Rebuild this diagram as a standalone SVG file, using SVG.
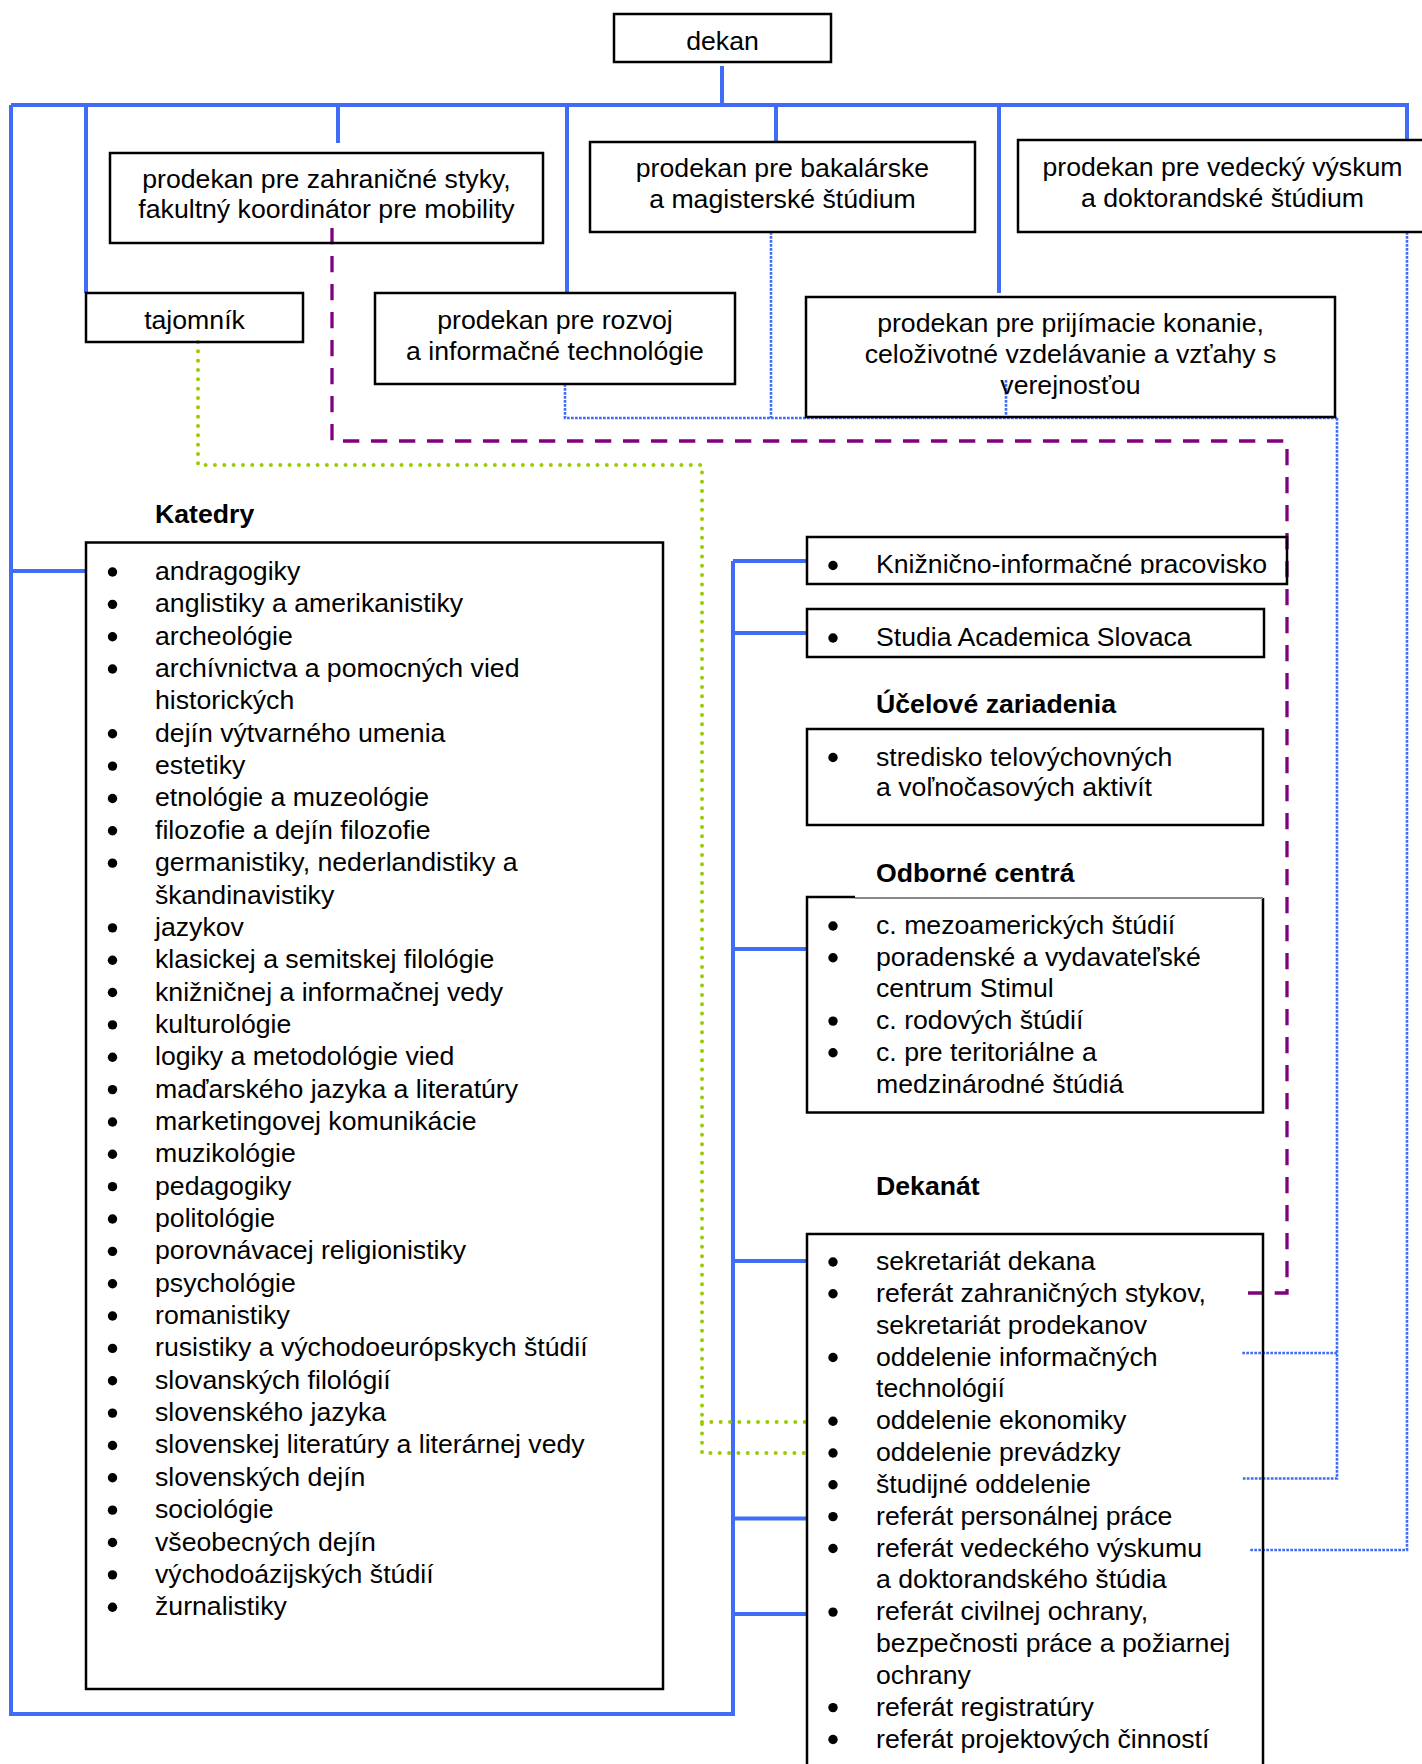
<svg xmlns="http://www.w3.org/2000/svg" xmlns:xlink="http://www.w3.org/1999/xlink" width="1422" height="1764" viewBox="0 0 1422 1764">
<style>
.t{font-family:"Liberation Sans",Arial,sans-serif;font-size:26.67px;fill:#000}
.c{text-anchor:middle}
.h{font-weight:bold}
.box{fill:none;stroke:#000;stroke-width:2.5}
.solid{fill:none;stroke:#416cf5;stroke-width:4}
.dot{fill:none;stroke:#416cf5;stroke-width:2.6;stroke-dasharray:2.7 1.3}
.dash{fill:none;stroke:#800080;stroke-width:3.3;stroke-dasharray:16.3 11.7}
.green{fill:none;stroke:#99cc00;stroke-width:4;stroke-linecap:round;stroke-dasharray:0 9.33}
</style>
<defs>
<circle id="bl" cx="0" cy="0" r="4.7" fill="#000"/>
<clipPath id="kclip"><rect x="807" y="537" width="480" height="37"/></clipPath>
</defs>
<rect width="1422" height="1764" fill="#fff"/>

<g id="connectors">
<path class="solid" d="M722,66V105M11,105H1409M11,105V1714H733V561M86,105V293M338,105V143M567,105V293M776,105V142M999,105V293M1407,105V140M11,571H86M733,561H807M733,633H807M733,949H807M733,1261H807M733,1518.5H807M733,1614H807"/>
<path class="dot" d="M565,384V418H1337M771,232V418M1006,380V418M1337,418V1478.5H1242M1337,1353H1242M1407,232V1550H1249"/>
<path class="dash" d="M332,228V441H1287V1293H1248"/>
<path class="green" d="M198,342V465H702V1453H805M702,1422H805"/>
</g>

<g id="dekan">
<rect class="box" x="614" y="14" width="217" height="48"/>
<text class="t c" x="722.5" y="49.5">dekan</text>
</g>

<g id="prodekan-zahranicne">
<rect class="box" x="110" y="153" width="433" height="90"/>
<text class="t c" x="326.5" y="187.5">prodekan pre zahraničné styky,</text>
<text class="t c" x="326.5" y="218">fakultný koordinátor pre mobility</text>
</g>

<g id="prodekan-bakalarske">
<rect class="box" x="590" y="142" width="385" height="90"/>
<text class="t c" x="782.5" y="177">prodekan pre bakalárske</text>
<text class="t c" x="782.5" y="208">a magisterské štúdium</text>
</g>

<g id="prodekan-vedecky">
<rect class="box" x="1018" y="140" width="412" height="92"/>
<text class="t c" x="1222.5" y="175.5">prodekan pre vedecký výskum</text>
<text class="t c" x="1222.5" y="206.5">a doktorandské štúdium</text>
</g>

<g id="tajomnik">
<rect class="box" x="86" y="293" width="217" height="49"/>
<text class="t c" x="194.5" y="328.5">tajomník</text>
</g>

<g id="prodekan-rozvoj">
<rect class="box" x="375" y="293" width="360" height="91"/>
<text class="t c" x="555" y="329">prodekan pre rozvoj</text>
<text class="t c" x="555" y="360">a informačné technológie</text>
</g>

<g id="prodekan-prijimacie">
<rect class="box" x="806" y="297" width="529" height="120"/>
<text class="t c" x="1070.5" y="332">prodekan pre prijímacie konanie,</text>
<text class="t c" x="1070.5" y="363">celoživotné vzdelávanie a vzťahy s</text>
<text class="t c" x="1070.5" y="394">verejnosťou</text>
</g>

<g id="katedry">
<text class="t h" x="155" y="522.5">Katedry</text>
<rect class="box" x="86" y="542.5" width="577" height="1146.5"/>
<g>
<use href="#bl" x="112.5" y="572"/>
<use href="#bl" x="112.5" y="604.35"/>
<use href="#bl" x="112.5" y="636.7"/>
<use href="#bl" x="112.5" y="669.05"/>
<use href="#bl" x="112.5" y="733.75"/>
<use href="#bl" x="112.5" y="766.1"/>
<use href="#bl" x="112.5" y="798.45"/>
<use href="#bl" x="112.5" y="830.8"/>
<use href="#bl" x="112.5" y="863.15"/>
<use href="#bl" x="112.5" y="927.85"/>
<use href="#bl" x="112.5" y="960.2"/>
<use href="#bl" x="112.5" y="992.55"/>
<use href="#bl" x="112.5" y="1024.9"/>
<use href="#bl" x="112.5" y="1057.25"/>
<use href="#bl" x="112.5" y="1089.6"/>
<use href="#bl" x="112.5" y="1121.95"/>
<use href="#bl" x="112.5" y="1154.3"/>
<use href="#bl" x="112.5" y="1186.65"/>
<use href="#bl" x="112.5" y="1219"/>
<use href="#bl" x="112.5" y="1251.35"/>
<use href="#bl" x="112.5" y="1283.7"/>
<use href="#bl" x="112.5" y="1316.05"/>
<use href="#bl" x="112.5" y="1348.4"/>
<use href="#bl" x="112.5" y="1380.75"/>
<use href="#bl" x="112.5" y="1413.1"/>
<use href="#bl" x="112.5" y="1445.45"/>
<use href="#bl" x="112.5" y="1477.8"/>
<use href="#bl" x="112.5" y="1510.15"/>
<use href="#bl" x="112.5" y="1542.5"/>
<use href="#bl" x="112.5" y="1574.85"/>
<use href="#bl" x="112.5" y="1607.2"/>
</g>
<text class="t">
<tspan x="155" y="580">andragogiky</tspan>
<tspan x="155" y="612.35">anglistiky a amerikanistiky</tspan>
<tspan x="155" y="644.7">archeológie</tspan>
<tspan x="155" y="677.05">archívnictva a pomocných vied</tspan>
<tspan x="155" y="709.4">historických</tspan>
<tspan x="155" y="741.75">dejín výtvarného umenia</tspan>
<tspan x="155" y="774.1">estetiky</tspan>
<tspan x="155" y="806.45">etnológie a muzeológie</tspan>
<tspan x="155" y="838.8">filozofie a dejín filozofie</tspan>
<tspan x="155" y="871.15">germanistiky, nederlandistiky a</tspan>
<tspan x="155" y="903.5">škandinavistiky</tspan>
<tspan x="155" y="935.85">jazykov</tspan>
<tspan x="155" y="968.2">klasickej a semitskej filológie</tspan>
<tspan x="155" y="1000.55">knižničnej a informačnej vedy</tspan>
<tspan x="155" y="1032.9">kulturológie</tspan>
<tspan x="155" y="1065.25">logiky a metodológie vied</tspan>
<tspan x="155" y="1097.6">maďarského jazyka a literatúry</tspan>
<tspan x="155" y="1129.95">marketingovej komunikácie</tspan>
<tspan x="155" y="1162.3">muzikológie</tspan>
<tspan x="155" y="1194.65">pedagogiky</tspan>
<tspan x="155" y="1227">politológie</tspan>
<tspan x="155" y="1259.35">porovnávacej religionistiky</tspan>
<tspan x="155" y="1291.7">psychológie</tspan>
<tspan x="155" y="1324.05">romanistiky</tspan>
<tspan x="155" y="1356.4">rusistiky a východoeurópskych štúdií</tspan>
<tspan x="155" y="1388.75">slovanských filológií</tspan>
<tspan x="155" y="1421.1">slovenského jazyka</tspan>
<tspan x="155" y="1453.45">slovenskej literatúry a literárnej vedy</tspan>
<tspan x="155" y="1485.8">slovenských dejín</tspan>
<tspan x="155" y="1518.15">sociológie</tspan>
<tspan x="155" y="1550.5">všeobecných dejín</tspan>
<tspan x="155" y="1582.85">východoázijských štúdií</tspan>
<tspan x="155" y="1615.2">žurnalistiky</tspan>
</text>
</g>

<g id="kniznicno">
<rect class="box" x="807" y="537" width="480" height="47"/>
<use href="#bl" x="833" y="565.5"/>
<text class="t" x="876" y="573" clip-path="url(#kclip)">Knižnično-informačné pracovisko</text>
</g>

<g id="studia">
<rect class="box" x="807" y="609" width="457" height="48"/>
<use href="#bl" x="833" y="638"/>
<text class="t" x="876" y="646">Studia Academica Slovaca</text>
</g>

<g id="ucelove">
<text class="t h" x="876" y="713">Účelové zariadenia</text>
<rect class="box" x="807" y="729" width="456" height="96"/>
<use href="#bl" x="833" y="757.5"/>
<text class="t"><tspan x="876" y="765.5">stredisko telovýchovných</tspan><tspan x="876" y="796">a voľnočasových aktivít</tspan></text>
</g>

<g id="odborne">
<text class="t h" x="876" y="882">Odborné centrá</text>
<path d="M807,898V1112.5H1263V898" fill="none" stroke="#000" stroke-width="2.5"/>
<path d="M855,898H1263" fill="none" stroke="#888" stroke-width="1.8"/>
<path d="M805.8,897H855" fill="none" stroke="#000" stroke-width="2.5"/>
<use href="#bl" x="833" y="926"/>
<use href="#bl" x="833" y="957.7"/>
<use href="#bl" x="833" y="1021.1"/>
<use href="#bl" x="833" y="1052.8"/>
<text class="t">
<tspan x="876" y="934">c. mezoamerických štúdií</tspan>
<tspan x="876" y="965.7">poradenské a vydavateľské</tspan>
<tspan x="876" y="997.4">centrum Stimul</tspan>
<tspan x="876" y="1029.1">c. rodových štúdií</tspan>
<tspan x="876" y="1060.8">c. pre teritoriálne a</tspan>
<tspan x="876" y="1092.5">medzinárodné štúdiá</tspan>
</text>
</g>

<g id="dekanat">
<text class="t h" x="876" y="1195">Dekanát</text>
<rect class="box" x="807" y="1234" width="456" height="540"/>
<use href="#bl" x="833" y="1262"/>
<use href="#bl" x="833" y="1293.8"/>
<use href="#bl" x="833" y="1357.5"/>
<use href="#bl" x="833" y="1421.2"/>
<use href="#bl" x="833" y="1453"/>
<use href="#bl" x="833" y="1484.8"/>
<use href="#bl" x="833" y="1516.6"/>
<use href="#bl" x="833" y="1548.5"/>
<use href="#bl" x="833" y="1612.1"/>
<use href="#bl" x="833" y="1707.6"/>
<use href="#bl" x="833" y="1739.5"/>
<text class="t">
<tspan x="876" y="1270">sekretariát dekana</tspan>
<tspan x="876" y="1301.8">referát zahraničných stykov,</tspan>
<tspan x="876" y="1333.7">sekretariát prodekanov</tspan>
<tspan x="876" y="1365.5">oddelenie informačných</tspan>
<tspan x="876" y="1397.3">technológií</tspan>
<tspan x="876" y="1429.2">oddelenie ekonomiky</tspan>
<tspan x="876" y="1461">oddelenie prevádzky</tspan>
<tspan x="876" y="1492.8">študijné oddelenie</tspan>
<tspan x="876" y="1524.6">referát personálnej práce</tspan>
<tspan x="876" y="1556.5">referát vedeckého výskumu</tspan>
<tspan x="876" y="1588.3">a doktorandského štúdia</tspan>
<tspan x="876" y="1620.1">referát civilnej ochrany,</tspan>
<tspan x="876" y="1652">bezpečnosti práce a požiarnej</tspan>
<tspan x="876" y="1683.8">ochrany</tspan>
<tspan x="876" y="1715.6">referát registratúry</tspan>
<tspan x="876" y="1747.5">referát projektových činností</tspan>
</text>
</g>
</svg>
